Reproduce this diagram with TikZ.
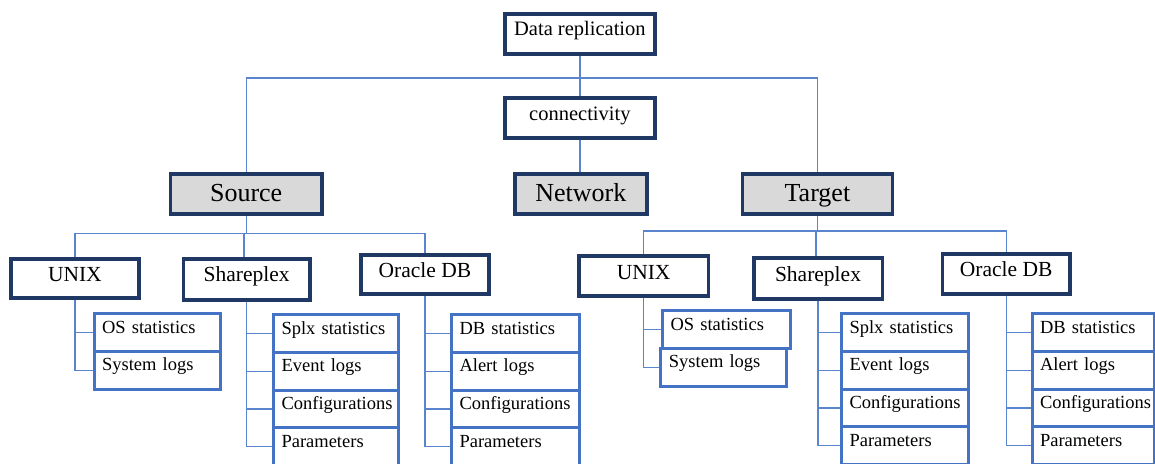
\documentclass[tikz,border=0pt]{standalone}
\usepackage{fontspec}
\setmainfont{Liberation Serif}
\definecolor{navy}{HTML}{203864}
\definecolor{cblue}{HTML}{4472C4}
\definecolor{lblue}{HTML}{5B84CF}
\definecolor{lgray}{HTML}{D9D9D9}
\tikzset{
  pb/.style 2 args={draw=navy, line width=3.8pt, anchor=north west, inner sep=0pt, text height=#1, text depth=#2},
  top/.style={font=\fontsize{20.5}{22}\selectfont, fill=white},
  mid/.style={font=\fontsize{26}{28}\selectfont, fill=lgray},
  lvl/.style={font=\fontsize{21.5}{23}\selectfont, fill=white},
  cb/.style={draw=cblue, line width=3pt, anchor=north west, inner xsep=8pt, inner ysep=0pt, align=left, fill=white,
    font=\fontsize{18.5}{20}\selectfont, text height=19.5pt, text depth=18.3pt},
  conn/.style={draw=lblue, line width=1.3pt}
}
\begin{document}
\begin{tikzpicture}[x=1pt,y=-1pt]
\fill[white] (0,0) rectangle (1155,463);
\useasboundingbox (0,0) rectangle (1155,463);
% coordinates for buses
\coordinate (bus) at (578,78);
\coordinate (sbus) at (244,233.3);
\coordinate (tbus) at (816,231);
% top level
\node[pb={21.3pt}{18.7pt}, top, minimum width=150pt] (dr) at (503,12) {Data replication};
\node[pb={22.3pt}{17.7pt}, top, minimum width=150pt] (cn) at (503,96) {connectivity};
\node[pb={27.3pt}{12.7pt}, mid, minimum width=151.5pt] (src) at (168.5,172) {Source};
\node[pb={27.3pt}{12.7pt}, mid, minimum width=132pt] (net) at (513,172) {Network};
\node[pb={27.3pt}{12.7pt}, mid, minimum width=150pt] (tgt) at (740.5,172) {Target};
% second level - source
\node[pb={23pt}{16pt}, lvl, minimum width=128pt] (su) at (9,257) {UNIX};
\node[pb={23pt}{17.7pt}, lvl, minimum width=126.5pt] (ss) at (181.5,257) {Shareplex};
\node[pb={23pt}{16.6pt}, lvl, minimum width=128pt] (so) at (359,252.7) {Oracle DB};
% second level - target
\node[pb={23.3pt}{16.7pt}, lvl, minimum width=129.5pt] (tu) at (577,254) {UNIX};
\node[pb={23.3pt}{17.4pt}, lvl, minimum width=128.8pt] (ts) at (751.7,256) {Shareplex};
\node[pb={23.3pt}{16.7pt}, lvl, minimum width=127.5pt] (to) at (940.5,251.7) {Oracle DB};
% children - source UNIX
\node[cb, text width=110pt] (sos) at (92.6,312) {OS statistics};
\node[cb, text width=110pt] (ssl) at (92.6,349.8) {System logs};
% children - source Shareplex
\node[cb, text width=109.4pt] (ss1) at (272,313) {Splx statistics};
\node[cb, text width=109.4pt] (ss2) at (272,350.8) {Event logs};
\node[cb, text width=109.4pt] (ss3) at (272,388.6) {Configurations};
\node[cb, text width=109.4pt] (ss4) at (272,426.4) {Parameters};
% children - source Oracle
\node[cb, text width=112pt] (so1) at (450,313) {DB statistics};
\node[cb, text width=112pt] (so2) at (450,350.8) {Alert logs};
\node[cb, text width=112pt] (so3) at (450,388.6) {Configurations};
\node[cb, text width=112pt] (so4) at (450,426.4) {Parameters};
% children - target UNIX
\node[cb, text width=112pt] (tos) at (661,309) {OS statistics};
\node[cb, text width=110pt] (tsl) at (659.4,346.8) {System logs};
% children - target Shareplex
\node[cb, text width=111pt] (ts1) at (840,312) {Splx statistics};
\node[cb, text width=111pt] (ts2) at (840,349.8) {Event logs};
\node[cb, text width=111pt] (ts3) at (840,387.6) {Configurations};
\node[cb, text width=111pt] (ts4) at (840,425.4) {Parameters};
% children - target Oracle
\node[cb, text width=106.5pt] (to1) at (1030.5,312) {DB statistics};
\node[cb, text width=106.5pt] (to2) at (1030.5,349.8) {Alert logs};
\node[cb, text width=106.5pt] (to3) at (1030.5,387.6) {Configurations};
\node[cb, text width=106.5pt] (to4) at (1030.5,425.4) {Parameters};
% connectors
\draw[conn] (dr.south) -- (dr.south |- cn.north);
\draw[conn] (cn.south) -- (cn.south |- net.north);
\draw[conn] (src.north) |- (bus) -| (tgt.north);
\draw[conn] (src.south) |- (sbus);
\draw[conn] (su.north) |- (sbus) -| (so.north);
\draw[conn] (sbus) -- (sbus |- ss.north);
\draw[conn] (tgt.south) |- (tbus);
\draw[conn] (tu.north) |- (tbus) -| (to.north);
\draw[conn] (tbus) -- (tbus |- ts.north);
\foreach \c in {sos,ssl} \draw[conn] (su.south) |- (\c.west);
\foreach \c in {ss1,ss2,ss3,ss4} \draw[conn] (ss.south) |- (\c.west);
\foreach \c in {so1,so2,so3,so4} \draw[conn] (so.south) |- (\c.west);
\foreach \c in {tos,tsl} \draw[conn] (tu.south) |- (\c.west);
\foreach \c in {ts1,ts2,ts3,ts4} \draw[conn] (ts.south) |- (\c.west);
\foreach \c in {to1,to2,to3,to4} \draw[conn] (to.south) |- (\c.west);
\end{tikzpicture}
\end{document}
